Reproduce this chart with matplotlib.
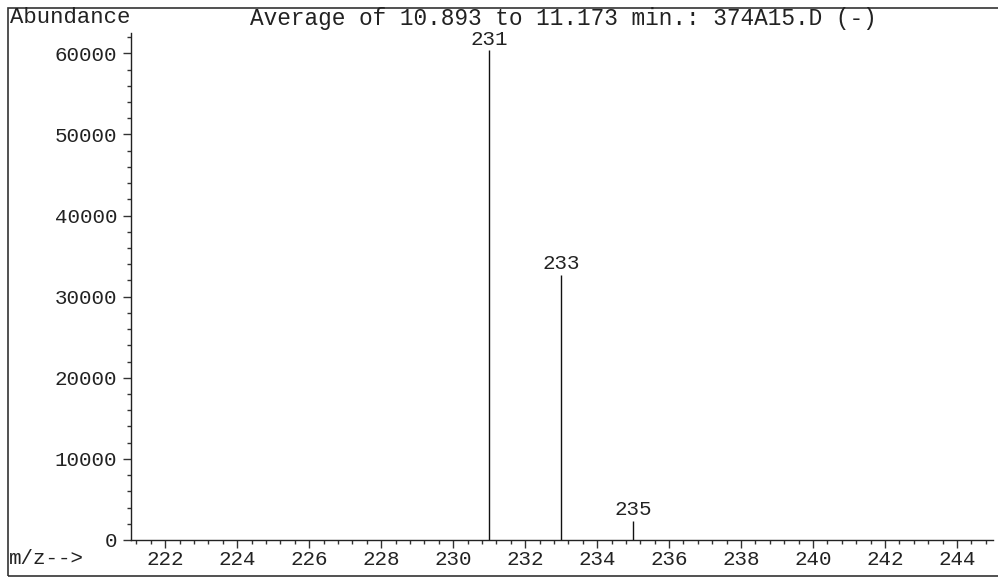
import matplotlib.pyplot as plt
import numpy as np
from matplotlib.ticker import MultipleLocator
from matplotlib.patches import Rectangle

mz = [231, 233, 235]
abundance = [60400, 32700, 2400]
peak_labels = ['231', '233', '235']

title = 'Average of 10.893 to 11.173 min.: 374A15.D (-)'
font = 'Liberation Mono'

fig = plt.figure(figsize=(9.98, 5.79), dpi=100)
ax = fig.add_axes([0.1313, 0.0674, 0.995 - 0.1313, 0.943 - 0.0674])

ax.vlines(mz, 0, abundance, color='#111111', lw=1)
for x, y, lab in zip(mz, abundance, peak_labels):
    ax.annotate(lab, xy=(x, y), xytext=(0, 1), textcoords='offset points',
                ha='center', va='bottom', fontsize=15, family=font, color='#222222')

ax.set_xlim(221.05, 245)
ax.set_ylim(0, 62500)
ax.xaxis.set_major_locator(MultipleLocator(2))
ax.xaxis.set_minor_locator(MultipleLocator(0.4))
ax.yaxis.set_major_locator(MultipleLocator(10000))
ax.yaxis.set_minor_locator(MultipleLocator(2000))
ax.tick_params(axis='both', which='major', length=6, width=1, color='#333333',
               labelsize=15, labelcolor='#222222', direction='out')
ax.tick_params(axis='both', which='minor', length=3, width=1, color='#333333', direction='out')
for lab in ax.get_xticklabels() + ax.get_yticklabels():
    lab.set_family(font)
ax.tick_params(axis='x', pad=1)
ax.tick_params(axis='y', pad=4)

for s in ['top', 'right']:
    ax.spines[s].set_visible(False)
for s in ['left', 'bottom']:
    ax.spines[s].set_color('#222222')
    ax.spines[s].set_linewidth(1)

# outer frame
fig.patches.append(Rectangle((0.008, 0.005), 0.995, 0.981, transform=fig.transFigure,
                             fill=False, lw=1.2, edgecolor='#333333'))
fig.text(0.010, 0.988, 'Abundance', ha='left', va='top', fontsize=16, family=font, color='#222222')
fig.text(0.25, 0.988, title, ha='left', va='top', fontsize=16.4, family=font, color='#222222')
fig.text(0.009, 0.036, 'm/z-->', ha='left', va='center', fontsize=15, family=font, color='#222222')

fig.savefig('out.png', dpi=100, facecolor='white')
